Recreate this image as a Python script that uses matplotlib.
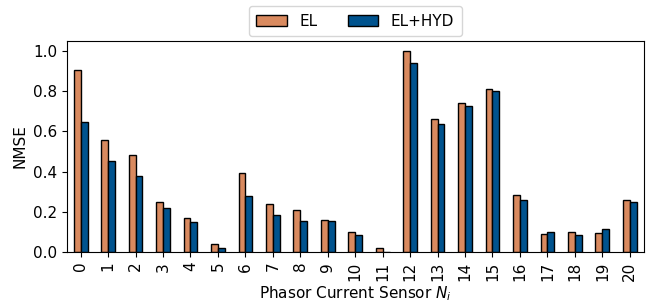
import numpy as np
import matplotlib.pyplot as plt

# NMSE per phasor current sensor
sensors = list(range(21))
nmse_el = [0.905, 0.557, 0.483, 0.250, 0.169, 0.041, 0.391, 0.240, 0.209, 0.161, 0.101,
           0.020, 1.000, 0.660, 0.738, 0.809, 0.284, 0.091, 0.098, 0.093, 0.260]
nmse_el_hyd = [0.648, 0.453, 0.380, 0.219, 0.148, 0.018, 0.280, 0.182, 0.154, 0.154, 0.086,
               0.001, 0.937, 0.638, 0.723, 0.801, 0.257, 0.101, 0.085, 0.113, 0.250]

c_el = "#d98a5f"
c_hyd = "#00538e"

fig, ax = plt.subplots(figsize=(6.5, 3.03), dpi=100)
x = np.arange(len(sensors))
w = 0.25
ax.bar(x - w/2, nmse_el, w, color=c_el, edgecolor="black", linewidth=1, label="EL")
ax.bar(x + w/2, nmse_el_hyd, w, color=c_hyd, edgecolor="black", linewidth=1, label="EL+HYD")

ax.set_xlim(-0.5, len(sensors) - 0.5)
ax.set_ylim(0, 1.05)
ax.set_xticks(x)
ax.set_xticklabels([str(s) for s in sensors], rotation=90, fontsize=11)
ax.set_yticks(np.arange(0, 1.01, 0.2))
ax.tick_params(axis="y", labelsize=11)
ax.set_xlabel("Phasor Current Sensor $N_i$", fontsize=11, labelpad=2)
ax.set_ylabel("NMSE", fontsize=11)
ax.legend(loc="upper center", bbox_to_anchor=(0.5, 1.2), ncol=2, fontsize=11,
          borderpad=0.5)

fig.subplots_adjust(left=0.103, right=0.99, top=0.866, bottom=0.168)
fig.savefig("out.png", dpi=100)
